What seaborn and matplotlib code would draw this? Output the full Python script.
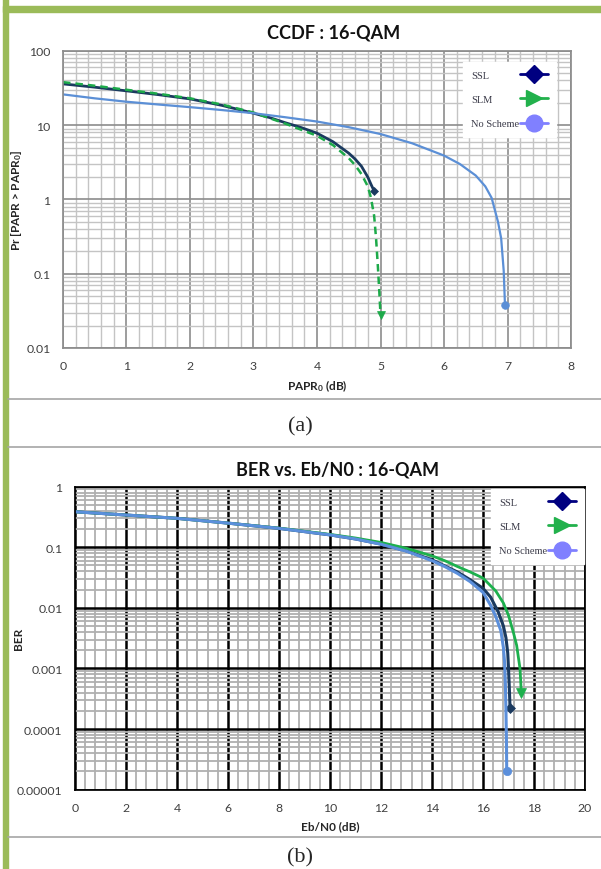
#!/usr/bin/env python3
"""Recreate the two-panel 16-QAM figure: CCDF (a) and BER vs. Eb/N0 (b)."""

import matplotlib

matplotlib.use("Agg")

import matplotlib.pyplot as plt
import numpy as np
import seaborn as sns
from matplotlib.font_manager import FontProperties
from matplotlib.legend_handler import HandlerLine2D
from matplotlib.lines import Line2D
from matplotlib.patches import Rectangle
from matplotlib.textpath import TextToPath
from matplotlib.ticker import LogLocator, MultipleLocator

# ---- (a) CCDF : 16-QAM ------------------------------------------------------
CCDF_SSL_X = [0.0, 0.5, 1.0, 1.5, 2.0, 2.5, 3.0, 3.25, 3.5, 3.75, 4.0, 4.25,
              4.5, 4.6, 4.7, 4.8, 4.85, 4.9]
CCDF_SSL_Y = [36, 32.5, 29, 25.8, 22.6, 18.5, 14.5, 12.7, 10.8, 9.3, 7.8, 6.0,
              4.2, 3.5, 2.8, 2.0, 1.6, 1.3]

CCDF_SLM_X = [0.0, 0.5, 1.0, 1.5, 2.0, 2.5, 3.0, 3.5, 4.0, 4.25, 4.5, 4.6,
              4.7, 4.8, 4.85, 4.9, 4.93, 4.96, 4.98, 5.0]
CCDF_SLM_Y = [38, 34, 30, 26.5, 23, 19, 14.8, 10.5, 7.2, 5.4, 3.6, 2.9,
              2.2, 1.5, 1.05, 0.6, 0.3, 0.12, 0.06, 0.028]

CCDF_NONE_X = [0.0, 0.5, 1.0, 1.5, 2.0, 2.5, 3.0, 3.5, 4.0, 4.5, 5.0, 5.5,
               6.0, 6.25, 6.5, 6.65, 6.75, 6.85, 6.9, 6.94, 6.96]
CCDF_NONE_Y = [26, 23, 20.7, 19, 17.5, 16, 14.5, 12.8, 11.2, 9.4, 7.6, 5.7,
               3.9, 3.0, 2.1, 1.5, 1.05, 0.5, 0.3, 0.11, 0.038]

CCDF_XTICKS = [0, 1, 2, 3, 4, 5, 6, 7, 8]
CCDF_YTICKS = [0.01, 0.1, 1, 10, 100]
CCDF_YTICK_LABELS = ["0.01", "0.1", "1", "10", "100"]

# ---- (b) BER vs. Eb/N0 : 16-QAM --------------------------------------------
BER_SSL_X = [0, 2, 4, 6, 8, 10, 11, 12, 13, 14, 15, 15.5, 16, 16.3, 16.6,
             16.8, 16.9, 16.97, 17.0, 17.03, 17.06]
BER_SSL_Y = [0.385, 0.34, 0.30, 0.25, 0.205, 0.16, 0.137, 0.113, 0.087,
             0.062, 0.039, 0.029, 0.021, 0.015, 0.0085, 0.005, 0.0032,
             0.0018, 0.001, 0.0005, 0.00022]

BER_SLM_X = [0, 2, 4, 6, 8, 10, 11, 12, 13, 14, 14.5, 15, 15.5, 16, 16.5,
             16.8, 17.0, 17.2, 17.32, 17.4, 17.45, 17.48, 17.5]
BER_SLM_Y = [0.385, 0.34, 0.30, 0.25, 0.207, 0.163, 0.142, 0.12, 0.096,
             0.072, 0.06, 0.048, 0.039, 0.031, 0.019, 0.012, 0.0075, 0.0038,
             0.0024, 0.0014, 0.001, 0.0006, 0.0004]

BER_NONE_X = [0, 2, 4, 6, 8, 10, 11, 12, 13, 14, 14.5, 15, 15.5, 16, 16.3,
              16.5, 16.7, 16.8, 16.85, 16.88, 16.9, 16.92, 16.93]
BER_NONE_Y = [0.385, 0.34, 0.30, 0.25, 0.205, 0.16, 0.137, 0.112, 0.086,
              0.06, 0.048, 0.037, 0.027, 0.018, 0.011, 0.0072, 0.0042,
              0.0022, 0.0012, 0.0005, 0.0002, 0.00006, 0.00002]

BER_XTICKS = [0, 2, 4, 6, 8, 10, 12, 14, 16, 18, 20]
BER_YTICKS = [0.00001, 0.0001, 0.001, 0.01, 0.1, 1]
BER_YTICK_LABELS = ["0.00001", "0.0001", "0.001", "0.01", "0.1", "1"]

LEGEND_LABELS = ["SSL", "SLM", "No Scheme"]

FRAME_GREEN = "#9BBB59"
SEPARATOR_GRAY = "#A6A6A6"
TICK_TEXT = "#404040"
LEGEND_FS = 7.5
LEGEND_PROP = FontProperties(family="Liberation Serif", size=LEGEND_FS)


class EndMarkerHandler(HandlerLine2D):
    """Legend key: label on the left, short line ending in the marker."""

    def __init__(self, label_width, line_len, **kwargs):
        super().__init__(**kwargs)
        self.label_width = label_width
        self.line_len = line_len

    def legend_artist(self, legend, orig_handle, fontsize, handlebox):
        width, _, _ = TextToPath().get_text_width_height_descent(
            orig_handle.get_label(), legend.prop, ismath=False)
        handlebox.width += self.label_width - width
        return super().legend_artist(legend, orig_handle, fontsize, handlebox)

    def get_xdata(self, legend, xdescent, ydescent, width, height, fontsize):
        right = -xdescent + width
        return [right - self.line_len, right], [right]


def draw_curve(ax, x, y, color, marker, ms, **kwargs):
    sns.lineplot(x=x, y=y, ax=ax, color=color, marker=marker,
                 markevery=[len(x) - 1], markersize=ms, mec=color, mfc=color,
                 mew=0.5, sort=False, estimator=None, **kwargs)


def add_legend(ax, anchor):
    handles = [
        Line2D([], [], color="#000080", lw=2, marker="D", ms=9.5,
               label=LEGEND_LABELS[0]),
        Line2D([], [], color="#22B14C", lw=2, marker=">", ms=11.5,
               label=LEGEND_LABELS[1]),
        Line2D([], [], color="#8080FF", lw=2, marker="o", ms=12,
               label=LEGEND_LABELS[2]),
    ]
    label_width = max(
        TextToPath().get_text_width_height_descent(s, LEGEND_PROP, ismath=False)[0]
        for s in LEGEND_LABELS
    )
    handler = EndMarkerHandler(label_width, line_len=20)
    leg = ax.legend(
        handles=handles, loc="upper right", bbox_to_anchor=anchor,
        markerfirst=False, handlelength=20 / LEGEND_FS, handletextpad=0.05,
        labelspacing=1.45, borderpad=0.8, borderaxespad=0, prop=LEGEND_PROP,
        frameon=True, fancybox=False, framealpha=1, edgecolor="white",
        facecolor="white", labelcolor="#3A3A48",
        handler_map={Line2D: handler},
    )
    leg.set_zorder(5)


def style_log_axes(ax, xticks, yticks, ylabels, x_minor, major_color,
                   minor_color, major_lw, minor_lw, spine_color):
    ax.set_yscale("log")
    ax.set_xlim(xticks[0], xticks[-1])
    ax.set_ylim(yticks[0], yticks[-1])
    ax.set_xticks(xticks, [str(t) for t in xticks])
    ax.set_yticks(yticks, ylabels)
    ax.xaxis.set_minor_locator(MultipleLocator(x_minor))
    ax.yaxis.set_minor_locator(LogLocator(base=10, subs=np.arange(2, 10)))
    ax.yaxis.set_minor_formatter(plt.NullFormatter())
    ax.set_axisbelow(True)
    ax.grid(which="minor", color=minor_color, lw=minor_lw)
    ax.grid(which="major", color=major_color, lw=major_lw)
    ax.tick_params(which="minor", length=0)
    ax.tick_params(which="major", length=5, width=1, color=spine_color,
                   labelsize=8.8, labelcolor=TICK_TEXT, pad=4)
    for spine in ax.spines.values():
        spine.set_visible(True)
        spine.set_color(spine_color)


def main():
    sns.set_theme(style="white")
    plt.rcParams["font.family"] = ["Lato", "DejaVu Sans"]
    plt.rcParams["mathtext.default"] = "regular"

    fig = plt.figure(figsize=(6.01, 8.7), dpi=100)
    fig.patch.set_facecolor("white")

    # page decoration: green frame, gray separators, captions
    fig.add_artist(Rectangle((0.0058, 0.0), 0.0075, 1.0, color=FRAME_GREEN,
                             transform=fig.transFigure))
    fig.add_artist(Rectangle((0.0058, 0.985), 0.995, 0.0075, color=FRAME_GREEN,
                             transform=fig.transFigure))
    for y in (0.5402, 0.4851, 0.0368):
        fig.add_artist(Line2D([0.0133, 1.0], [y, y], color=SEPARATOR_GRAY,
                              lw=1.2, transform=fig.transFigure))
    fig.text(0.499, 1 - 427 / 870, "(a)", ha="center", va="center",
             family="Liberation Serif", size=16)
    fig.text(0.499, 0.003, "(b)", ha="center", va="bottom",
             family="Liberation Serif", size=16)

    # ---- (a) CCDF
    ax1 = fig.add_axes([0.1048, 0.5989, 0.8453, 0.3414])
    draw_curve(ax1, CCDF_SSL_X, CCDF_SSL_Y, "#1B3A5F", "D", 4.5, lw=2.0)
    draw_curve(ax1, CCDF_SLM_X, CCDF_SLM_Y, "#1DAA4A", "v", 6, lw=1.8,
               ls=(0, (3, 2)))
    draw_curve(ax1, CCDF_NONE_X, CCDF_NONE_Y, "#5B8FD6", "o", 5.5, lw=1.6)
    style_log_axes(ax1, CCDF_XTICKS, CCDF_YTICKS, CCDF_YTICK_LABELS, 0.2,
                   "#8C8C8C", "#C4C4C4", 1.2, 1.0, "#8C8C8C")
    ax1.set_xlabel("PAPR$_0$ (dB)", fontsize=8.5, fontweight="bold")
    ax1.set_ylabel("Pr [PAPR > PAPR$_0$]", fontsize=8.5, fontweight="bold")
    ax1.xaxis.set_label_coords(0.5, -0.1)
    ax1.yaxis.set_label_coords(-0.076, 0.5)
    add_legend(ax1, (0.9705, 0.963))
    fig.text(334 / 601, 1 - 33 / 870, "CCDF : 16-QAM", ha="center",
             va="center", fontsize=13, fontweight="bold", color="#111111")

    # ---- (b) BER vs. Eb/N0
    ax2 = fig.add_axes([0.1248, 0.0912, 0.8486, 0.3483])
    draw_curve(ax2, BER_SSL_X, BER_SSL_Y, "#1B3A5F", "D", 5, lw=2.2)
    draw_curve(ax2, BER_SLM_X, BER_SLM_Y, "#1DB04D", "v", 6.5, lw=2.0)
    draw_curve(ax2, BER_NONE_X, BER_NONE_Y, "#5B8FDB", "o", 6, lw=2.2)
    style_log_axes(ax2, BER_XTICKS, BER_YTICKS, BER_YTICK_LABELS, 0.4,
                   "#000000", "#B0B0B0", 1.8, 1.3, "#000000")
    ax2.set_xlabel("Eb/N0 (dB)", fontsize=8.5, fontweight="bold")
    ax2.set_ylabel("BER", fontsize=8.5, fontweight="bold")
    ax2.xaxis.set_label_coords(0.5, -0.1)
    ax2.yaxis.set_label_coords(-0.1, 0.5)
    add_legend(ax2, (0.998, 0.992))
    fig.text(338 / 601, 1 - 470 / 870, "BER vs. Eb/N0 : 16-QAM", ha="center",
             va="center", fontsize=13, fontweight="bold", color="#111111")

    fig.savefig("out.png", dpi=100)
    plt.close(fig)


if __name__ == "__main__":
    main()
